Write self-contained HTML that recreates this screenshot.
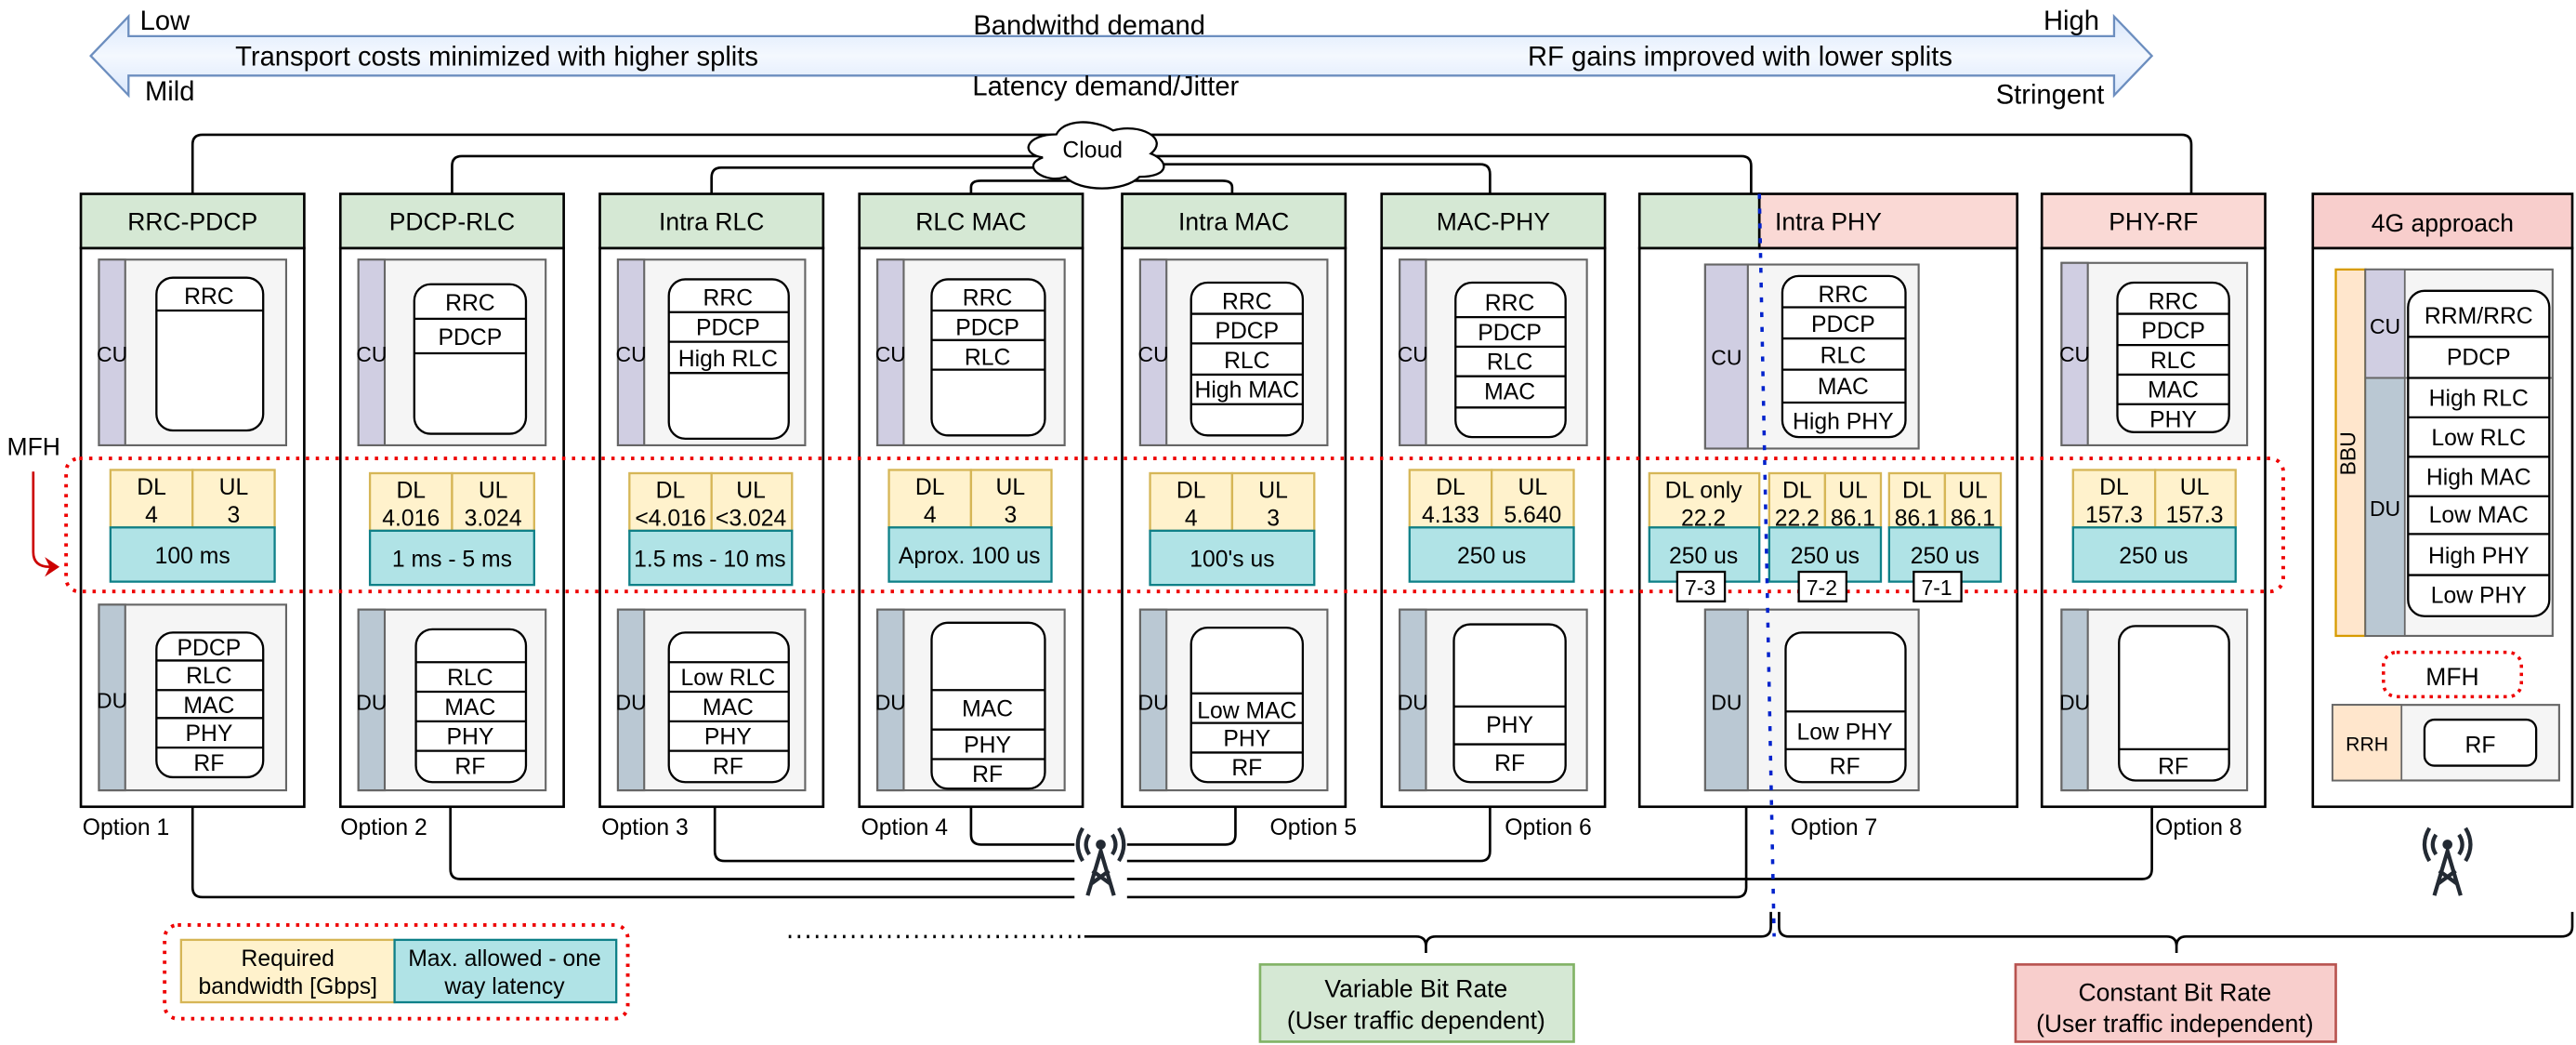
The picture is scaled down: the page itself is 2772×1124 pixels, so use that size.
<!DOCTYPE html>
<html><head><meta charset="utf-8"><style>
html,body{margin:0;padding:0;background:#fff;}
svg{display:block;}
text{font-family:"Liberation Sans",sans-serif;fill:#000;}
</style></head><body>
<svg width="2772" height="1124" viewBox="0 0 1568 636" xmlns="http://www.w3.org/2000/svg">
<defs>
<linearGradient id="ag" x1="0" y1="0" x2="0" y2="1"><stop offset="0" stop-color="#dae8fc"/><stop offset="0.5" stop-color="#f4f8fe"/><stop offset="1" stop-color="#dae8fc"/></linearGradient>
</defs>
<rect width="1568" height="636" fill="#fff"/>
<polygon points="55,34 78,10 78,22 1287,22 1287,10 1310,34 1287,58 1287,46 78,46 78,58" fill="url(#ag)" stroke="#6c8ebf" stroke-width="1.3"/>
<g font-size="16.5">
<text x="85" y="18">Low</text>
<text x="663" y="21" text-anchor="middle">Bandwithd demand</text>
<text x="1244" y="18">High</text>
<text x="143" y="40">Transport costs minimized with higher splits</text>
<text x="930" y="40">RF gains improved with lower splits</text>
<text x="88" y="61">Mild</text>
<text x="673" y="58" text-anchor="middle">Latency demand/Jitter</text>
<text x="1215" y="63">Stringent</text>
</g>
<g fill="none" stroke="#000" stroke-width="1.5">
<path d="M117,118 V88 Q117,82 123,82 H1328 Q1334,82 1334,88 V118"/>
<path d="M275,118 V101 Q275,95 281,95 H1060 Q1066,95 1066,101 V118"/>
<path d="M433,118 V108 Q433,102 439,102 H660"/>
<path d="M907,118 V106 Q907,100 901,100 H680"/>
<path d="M591,118 V114 Q591,110 597,110 H660"/>
<path d="M750,118 V114 Q750,110 744,110 H680"/>
</g>
<path d="M643,81.75 C624.6,81.75 620,93.5 634.7,95.85 C620,101 636.6,112.3 648.5,107.6 C656.8,117 684.4,117 693.6,107.6 C712,107.6 712,98.2 700.5,93.5 C712,84.1 693.6,74.7 677.5,79.4 C666,72.35 647.6,72.35 643,81.75 Z" fill="#fff" stroke="#000" stroke-width="1.3"/>
<text x="665" y="96" font-size="14" text-anchor="middle">Cloud</text>

<g fill="none" stroke="#000" stroke-width="1.5">
<path d="M117,491 V540 Q117,546 123,546 H1057 Q1063,546 1063,540 V491"/>
<path d="M274,491 V529 Q274,535 280,535 H1304 Q1310,535 1310,529 V491"/>
<path d="M435,491 V518 Q435,524 441,524 H901 Q907,524 907,518 V491"/>
<path d="M591,491 V508 Q591,514 597,514 H746 Q752,514 752,508 V491"/>
</g>
<g>
<rect x="654" y="503" width="32" height="44" fill="#fff"/>
<g fill="none" stroke="#232a33" stroke-width="2.4">
<path d="M662,545 L670,518 L678,545"/>
<path d="M664,538 L675,530 M676,538 L665,530"/>
<path d="M663,508 Q659,514 663,520 M677,508 Q681,514 677,520"/>
<path d="M659,504 Q653,514 659,524 M681,504 Q687,514 681,524"/>
</g>
<circle cx="670" cy="514" r="3" fill="#232a33"/>
</g>
<g>
<g fill="none" stroke="#232a33" stroke-width="2.4">
<path d="M1482,545 L1490,518 L1498,545"/>
<path d="M1484,538 L1495,530 M1496,538 L1485,530"/>
<path d="M1483,508 Q1479,514 1483,520 M1497,508 Q1501,514 1497,520"/>
<path d="M1479,504 Q1473,514 1479,524 M1501,504 Q1507,514 1501,524"/>
</g>
<circle cx="1490" cy="514" r="3" fill="#232a33"/>
</g>

<g stroke="#000" stroke-width="1.5">
<rect x="49" y="151" width="136" height="340" fill="#fff"/>
<rect x="207" y="151" width="136" height="340" fill="#fff"/>
<rect x="365" y="151" width="136" height="340" fill="#fff"/>
<rect x="523" y="151" width="136" height="340" fill="#fff"/>
<rect x="683" y="151" width="136" height="340" fill="#fff"/>
<rect x="841" y="151" width="136" height="340" fill="#fff"/>
<rect x="998" y="151" width="230" height="340" fill="#fff"/>
<rect x="1243" y="151" width="136" height="340" fill="#fff"/>
<rect x="1408" y="151" width="158" height="340" fill="#fff"/>
<rect x="49" y="118" width="136" height="33" fill="#d5e8d4"/>
<rect x="207" y="118" width="136" height="33" fill="#d5e8d4"/>
<rect x="365" y="118" width="136" height="33" fill="#d5e8d4"/>
<rect x="523" y="118" width="136" height="33" fill="#d5e8d4"/>
<rect x="683" y="118" width="136" height="33" fill="#d5e8d4"/>
<rect x="841" y="118" width="136" height="33" fill="#d5e8d4"/>
<rect x="998" y="118" width="73" height="33" fill="#d5e8d4"/>
<rect x="1071" y="118" width="157" height="33" fill="#fad9d5"/>
<rect x="1243" y="118" width="136" height="33" fill="#fad9d5"/>
<rect x="1408" y="118" width="158" height="33" fill="#f8cecc"/>
</g>
<g font-size="15" text-anchor="middle">
<text x="117" y="140">RRC-PDCP</text>
<text x="275" y="140">PDCP-RLC</text>
<text x="433" y="140">Intra RLC</text>
<text x="591" y="140">RLC MAC</text>
<text x="751" y="140">Intra MAC</text>
<text x="909" y="140">MAC-PHY</text>
<text x="1113" y="140">Intra PHY</text>
<text x="1311" y="140">PHY-RF</text>
<text x="1487" y="141">4G approach</text>
</g>

<g stroke="#666" stroke-width="1.2">
<rect x="60" y="158" width="114" height="113" fill="#f5f5f5"/><rect x="60" y="158" width="16" height="113" fill="#d0cee2"/>
<rect x="218" y="158" width="114" height="113" fill="#f5f5f5"/><rect x="218" y="158" width="16" height="113" fill="#d0cee2"/>
<rect x="376" y="158" width="114" height="113" fill="#f5f5f5"/><rect x="376" y="158" width="16" height="113" fill="#d0cee2"/>
<rect x="534" y="158" width="114" height="113" fill="#f5f5f5"/><rect x="534" y="158" width="16" height="113" fill="#d0cee2"/>
<rect x="694" y="158" width="114" height="113" fill="#f5f5f5"/><rect x="694" y="158" width="16" height="113" fill="#d0cee2"/>
<rect x="852" y="158" width="114" height="113" fill="#f5f5f5"/><rect x="852" y="158" width="16" height="113" fill="#d0cee2"/>
<rect x="1038" y="161" width="130" height="112" fill="#f5f5f5"/><rect x="1038" y="161" width="26" height="112" fill="#d0cee2"/>
<rect x="1255" y="160" width="113" height="111" fill="#f5f5f5"/><rect x="1255" y="160" width="16" height="111" fill="#d0cee2"/>

<rect x="60" y="368" width="114" height="113" fill="#f5f5f5"/><rect x="60" y="368" width="16" height="113" fill="#bac8d3"/>
<rect x="218" y="371" width="114" height="110" fill="#f5f5f5"/><rect x="218" y="371" width="16" height="110" fill="#bac8d3"/>
<rect x="376" y="371" width="114" height="110" fill="#f5f5f5"/><rect x="376" y="371" width="16" height="110" fill="#bac8d3"/>
<rect x="534" y="371" width="114" height="110" fill="#f5f5f5"/><rect x="534" y="371" width="16" height="110" fill="#bac8d3"/>
<rect x="694" y="371" width="114" height="110" fill="#f5f5f5"/><rect x="694" y="371" width="16" height="110" fill="#bac8d3"/>
<rect x="852" y="371" width="114" height="110" fill="#f5f5f5"/><rect x="852" y="371" width="16" height="110" fill="#bac8d3"/>
<rect x="1038" y="371" width="130" height="110" fill="#f5f5f5"/><rect x="1038" y="371" width="26" height="110" fill="#bac8d3"/>
<rect x="1255" y="371" width="113" height="110" fill="#f5f5f5"/><rect x="1255" y="371" width="16" height="110" fill="#bac8d3"/>
</g>
<g font-size="13" text-anchor="middle">
<text x="68" y="220">CU</text><text x="226" y="220">CU</text><text x="384" y="220">CU</text><text x="542" y="220">CU</text><text x="702" y="220">CU</text><text x="860" y="220">CU</text><text x="1051" y="222">CU</text><text x="1263" y="220">CU</text>
<text x="68" y="431">DU</text><text x="226" y="432">DU</text><text x="384" y="432">DU</text><text x="542" y="432">DU</text><text x="702" y="432">DU</text><text x="860" y="432">DU</text><text x="1051" y="432">DU</text><text x="1263" y="432">DU</text>
</g>

<g fill="#fff" stroke="#000" stroke-width="1.3">
<rect x="95" y="169" width="65" height="93" rx="10"/>
<rect x="252" y="173" width="68" height="91" rx="10"/>
<rect x="407" y="170" width="73" height="97" rx="10"/>
<rect x="567" y="170" width="69" height="95" rx="10"/>
<rect x="725" y="172" width="68" height="93" rx="10"/>
<rect x="886" y="172" width="67" height="94" rx="10"/>
<rect x="1085" y="168" width="75" height="98" rx="10"/>
<rect x="1289" y="172" width="68" height="91" rx="10"/>
<rect x="95" y="385" width="65" height="88" rx="10"/>
<rect x="253" y="383" width="67" height="93" rx="10"/>
<rect x="407" y="385" width="73" height="91" rx="10"/>
<rect x="567" y="379" width="69" height="101" rx="10"/>
<rect x="725" y="382" width="68" height="94" rx="10"/>
<rect x="885" y="380" width="68" height="96" rx="10"/>
<rect x="1087" y="385" width="73" height="91" rx="10"/>
<rect x="1290" y="381" width="67" height="94" rx="10"/>
</g>
<g stroke="#000" stroke-width="1.3">
<path d="M95,189H160"/>
<path d="M252,194H320M252,215H320"/>
<path d="M407,190H480M407,208H480M407,227H480"/>
<path d="M567,189H636M567,207H636M567,225H636"/>
<path d="M725,191H793M725,209H793M725,228H793M725,246H793"/>
<path d="M886,193H953M886,211H953M886,229H953M886,248H953"/>
<path d="M1085,187H1160M1085,206H1160M1085,225H1160M1085,245H1160"/>
<path d="M1289,191H1357M1289,210H1357M1289,228H1357M1289,246H1357"/>
<path d="M95,402H160M95,420H160M95,437H160M95,455H160"/>
<path d="M253,403H320M253,421H320M253,439H320M253,457H320"/>
<path d="M407,403H480M407,421H480M407,439H480M407,457H480"/>
<path d="M567,420H636M567,444H636M567,462H636"/>
<path d="M725,422H793M725,440H793M725,458H793"/>
<path d="M885,430H953M885,453H953"/>
<path d="M1087,433H1160M1087,456H1160"/>
<path d="M1290,456H1357"/>
</g>
<g font-size="14" text-anchor="middle">
<text x="127" y="185">RRC</text>
<text x="286" y="189">RRC</text><text x="286" y="210">PDCP</text>
<text x="443" y="186">RRC</text><text x="443" y="204">PDCP</text><text x="443" y="223">High RLC</text>
<text x="601" y="186">RRC</text><text x="601" y="204">PDCP</text><text x="601" y="222">RLC</text>
<text x="759" y="188">RRC</text><text x="759" y="206">PDCP</text><text x="759" y="224">RLC</text><text x="759" y="242">High MAC</text>
<text x="919" y="189">RRC</text><text x="919" y="207">PDCP</text><text x="919" y="225">RLC</text><text x="919" y="243">MAC</text>
<text x="1122" y="184">RRC</text><text x="1122" y="202">PDCP</text><text x="1122" y="221">RLC</text><text x="1122" y="240">MAC</text><text x="1122" y="261">High PHY</text>
<text x="1323" y="188">RRC</text><text x="1323" y="206">PDCP</text><text x="1323" y="224">RLC</text><text x="1323" y="242">MAC</text><text x="1323" y="260">PHY</text>
<text x="127" y="399">PDCP</text><text x="127" y="416">RLC</text><text x="127" y="434">MAC</text><text x="127" y="451">PHY</text><text x="127" y="469">RF</text>
<text x="286" y="417">RLC</text><text x="286" y="435">MAC</text><text x="286" y="453">PHY</text><text x="286" y="471">RF</text>
<text x="443" y="417">Low RLC</text><text x="443" y="435">MAC</text><text x="443" y="453">PHY</text><text x="443" y="471">RF</text>
<text x="601" y="436">MAC</text><text x="601" y="458">PHY</text><text x="601" y="476">RF</text>
<text x="759" y="437">Low MAC</text><text x="759" y="454">PHY</text><text x="759" y="472">RF</text>
<text x="919" y="446">PHY</text><text x="919" y="469">RF</text>
<text x="1123" y="450">Low PHY</text><text x="1123" y="471">RF</text>
<text x="1323" y="471">RF</text>
</g>

<rect x="1422" y="164" width="18" height="223" fill="#ffe6cc" stroke="#d79b00" stroke-width="1.3"/>
<text x="1436" y="276" font-size="13" text-anchor="middle" transform="rotate(-90 1436 276)" dy="-2">BBU</text>
<rect x="1440" y="164" width="114" height="223" fill="#f5f5f5" stroke="#666" stroke-width="1.2"/>
<rect x="1440" y="164" width="24" height="66" fill="#d0cee2" stroke="#666" stroke-width="1"/>
<rect x="1440" y="230" width="24" height="157" fill="#bac8d3" stroke="#666" stroke-width="1"/>
<line x1="1440" y1="230" x2="1554" y2="230" stroke="#666" stroke-width="1"/>
<text x="1452" y="203" font-size="13" text-anchor="middle">CU</text>
<text x="1452" y="314" font-size="13" text-anchor="middle">DU</text>
<rect x="1466" y="177" width="86" height="198" rx="10" fill="#fff" stroke="#000" stroke-width="1.3"/>
<path d="M1466,205H1552M1466,230H1552M1466,254H1552M1466,278H1552M1466,302H1552M1466,325H1552M1466,350H1552" stroke="#000" stroke-width="1.3"/>
<g font-size="14" text-anchor="middle">
<text x="1509" y="197">RRM/RRC</text><text x="1509" y="222">PDCP</text><text x="1509" y="247">High RLC</text><text x="1509" y="271">Low RLC</text><text x="1509" y="295">High MAC</text><text x="1509" y="318">Low MAC</text><text x="1509" y="343">High PHY</text><text x="1509" y="367">Low PHY</text>
</g>
<rect x="1451" y="397" width="84" height="27" rx="8" fill="none" stroke="#e00" stroke-width="2" stroke-dasharray="2,3"/>
<text x="1493" y="417" font-size="15" text-anchor="middle">MFH</text>
<rect x="1420" y="429" width="138" height="46" fill="#f5f5f5" stroke="#666" stroke-width="1.2"/>
<rect x="1420" y="429" width="42" height="46" fill="#ffe6cc" stroke="#666" stroke-width="1"/>
<text x="1441" y="457" font-size="12" text-anchor="middle">RRH</text>
<rect x="1476" y="438" width="68" height="28" rx="6" fill="#fff" stroke="#000" stroke-width="1.3"/>
<text x="1510" y="458" font-size="14" text-anchor="middle">RF</text>

<rect x="40" y="279" width="1350" height="81" rx="8" fill="none" stroke="#e00" stroke-width="2.2" stroke-dasharray="2,4"/>
<text x="4" y="277" font-size="15">MFH</text>
<path d="M20,287 V336 Q20,345 30,345" fill="none" stroke="#c00" stroke-width="1.5"/>
<polygon points="36,345 27,339 30,345 27,351" fill="#c00"/>

<g stroke="#d6b656" stroke-width="1.3" fill="#fff2cc">
<rect x="67" y="286" width="50" height="35"/><rect x="117" y="286" width="50" height="35"/>
<rect x="225" y="288" width="50" height="35"/><rect x="275" y="288" width="50" height="35"/>
<rect x="383" y="288" width="50" height="35"/><rect x="433" y="288" width="49" height="35"/>
<rect x="541" y="286" width="50" height="35"/><rect x="591" y="286" width="49" height="35"/>
<rect x="700" y="288" width="50" height="35"/><rect x="750" y="288" width="50" height="35"/>
<rect x="858" y="286" width="50" height="35"/><rect x="908" y="286" width="50" height="35"/>
<rect x="1004" y="288" width="67" height="33"/>
<rect x="1077" y="288" width="34" height="33"/><rect x="1111" y="288" width="34" height="33"/>
<rect x="1150" y="288" width="34" height="33"/><rect x="1184" y="288" width="34" height="33"/>
<rect x="1262" y="286" width="50" height="35"/><rect x="1312" y="286" width="49" height="35"/>
</g>
<g stroke="#0e8088" stroke-width="1.3" fill="#b0e3e6">
<rect x="67" y="321" width="100" height="33"/>
<rect x="225" y="323" width="100" height="33"/>
<rect x="383" y="323" width="99" height="33"/>
<rect x="541" y="321" width="99" height="33"/>
<rect x="700" y="323" width="100" height="33"/>
<rect x="858" y="321" width="100" height="33"/>
<rect x="1004" y="321" width="67" height="33"/>
<rect x="1077" y="321" width="68" height="33"/>
<rect x="1150" y="321" width="68" height="33"/>
<rect x="1262" y="321" width="99" height="33"/>
</g>
<g font-size="14" text-anchor="middle">
<text x="92" y="301">DL</text><text x="92" y="318">4</text><text x="142" y="301">UL</text><text x="142" y="318">3</text>
<text x="250" y="303">DL</text><text x="250" y="320">4.016</text><text x="300" y="303">UL</text><text x="300" y="320">3.024</text>
<text x="408" y="303">DL</text><text x="408" y="320">&lt;4.016</text><text x="457" y="303">UL</text><text x="457" y="320">&lt;3.024</text>
<text x="566" y="301">DL</text><text x="566" y="318">4</text><text x="615" y="301">UL</text><text x="615" y="318">3</text>
<text x="725" y="303">DL</text><text x="725" y="320">4</text><text x="775" y="303">UL</text><text x="775" y="320">3</text>
<text x="883" y="301">DL</text><text x="883" y="318">4.133</text><text x="933" y="301">UL</text><text x="933" y="318">5.640</text>
<text x="1037" y="303">DL only</text><text x="1037" y="320">22.2</text>
<text x="1094" y="303">DL</text><text x="1094" y="320">22.2</text><text x="1128" y="303">UL</text><text x="1128" y="320">86.1</text>
<text x="1167" y="303">DL</text><text x="1167" y="320">86.1</text><text x="1201" y="303">UL</text><text x="1201" y="320">86.1</text>
<text x="1287" y="301">DL</text><text x="1287" y="318">157.3</text><text x="1336" y="301">UL</text><text x="1336" y="318">157.3</text>
<text x="117" y="343">100 ms</text>
<text x="275" y="345">1 ms - 5 ms</text>
<text x="432" y="345">1.5 ms - 10 ms</text>
<text x="590" y="343">Aprox. 100 us</text>
<text x="750" y="345">100's us</text>
<text x="908" y="343">250 us</text>
<text x="1037" y="343">250 us</text>
<text x="1111" y="343">250 us</text>
<text x="1184" y="343">250 us</text>
<text x="1311" y="343">250 us</text>
</g>
<g fill="#fff" stroke="#000" stroke-width="1.3">
<rect x="1021" y="348" width="29" height="18"/><rect x="1095" y="348" width="29" height="18"/><rect x="1165" y="348" width="29" height="18"/>
</g>
<g font-size="13" text-anchor="middle">
<text x="1035" y="362">7-3</text><text x="1109" y="362">7-2</text><text x="1179" y="362">7-1</text>
</g>

<line x1="1071" y1="118" x2="1080" y2="570" stroke="#0022cc" stroke-width="2" stroke-dasharray="3,6"/>

<g font-size="14">
<text x="50" y="508">Option 1</text><text x="207" y="508">Option 2</text><text x="366" y="508">Option 3</text><text x="524" y="508">Option 4</text><text x="773" y="508">Option 5</text><text x="916" y="508">Option 6</text><text x="1090" y="508">Option 7</text><text x="1312" y="508">Option 8</text>
</g>

<line x1="480" y1="570" x2="660" y2="570" stroke="#000" stroke-width="2" stroke-dasharray="1.5,4"/>
<path d="M660,570 H862 Q868,570 868,576 V580 M868,576 Q868,570 874,570 H1072 Q1078,570 1078,564 V555" fill="none" stroke="#000" stroke-width="1.5"/>
<path d="M1083,555 V564 Q1083,570 1089,570 H1319 Q1325,570 1325,576 V580 M1325,576 Q1325,570 1331,570 H1559 Q1566,570 1566,564 V555" fill="none" stroke="#000" stroke-width="1.5"/>
<rect x="767" y="587" width="191" height="47" fill="#d5e8d4" stroke="#82b366" stroke-width="1.5"/>
<text x="862" y="607" font-size="15" text-anchor="middle">Variable Bit Rate</text>
<text x="862" y="626" font-size="15" text-anchor="middle">(User traffic dependent)</text>
<rect x="1227" y="587" width="195" height="47" fill="#f8cecc" stroke="#b85450" stroke-width="1.5"/>
<text x="1324" y="609" font-size="15" text-anchor="middle">Constant Bit Rate</text>
<text x="1324" y="628" font-size="15" text-anchor="middle">(User traffic independent)</text>

<rect x="100" y="563" width="282" height="57" rx="8" fill="none" stroke="#e00" stroke-width="2.2" stroke-dasharray="2,4"/>
<rect x="110" y="572" width="130" height="38" fill="#fff2cc" stroke="#d6b656" stroke-width="1.3"/>
<rect x="240" y="572" width="135" height="38" fill="#b0e3e6" stroke="#0e8088" stroke-width="1.3"/>
<g font-size="14" text-anchor="middle">
<text x="175" y="588">Required</text><text x="175" y="605">bandwidth [Gbps]</text>
<text x="307" y="588">Max. allowed - one</text><text x="307" y="605">way latency</text>
</g>
</svg>
</body></html>
